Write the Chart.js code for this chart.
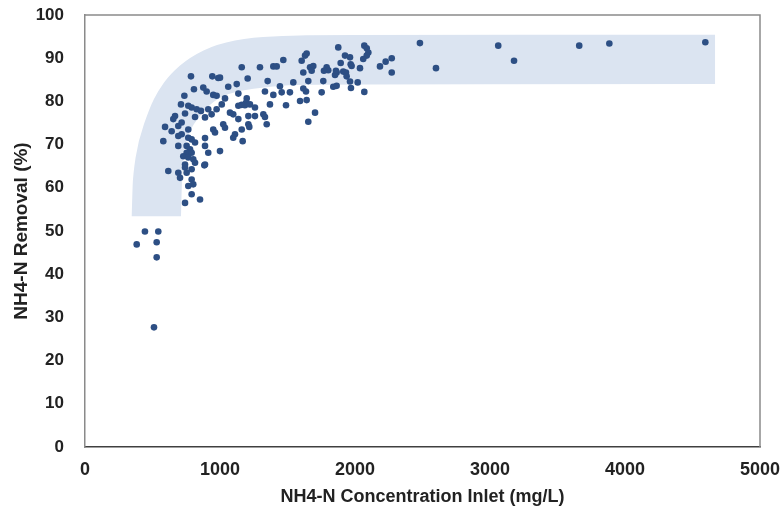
<!DOCTYPE html>
<html>
<head>
<meta charset="utf-8">
<script src="https://cdn.jsdelivr.net/npm/chart.js@4.4.1/dist/chart.umd.min.js"></script>
<style>
  html, body { margin: 0; padding: 0; background: #fff; }
  #wrap { width: 783px; height: 506px; position: relative; }
</style>
</head>
<body>
<div id="wrap"><canvas id="chart"></canvas></div>
<script>
// NH4-N inlet concentration (mg/L) vs removal (%)
const inletConc = [
  785, 943, 987, 807, 876, 901, 950, 975, 736, 711, 765, 790, 827, 859, 913, 938, 975, 741, 667, 654,
  815, 889, 593, 691, 716, 765, 950, 963, 642, 580, 691, 716, 765, 790, 815, 889, 691, 753, 778, 753,
  790, 889, 913, 728, 765, 802, 815, 741, 889, 617, 691, 704, 741, 790, 753, 790, 765, 802, 790, 852,
  741, 884,
  444, 543, 383, 531, 531, 511,
  1161, 1296, 1395, 1420, 1469, 1605, 1630, 1642, 1667, 1691, 1679, 1617, 1790, 1802, 1876, 1864, 1852,
  1000, 1061, 1205, 1353, 1543, 1654, 1765, 1124, 1136, 1444, 1457, 1617, 1637, 1839, 1864, 1333, 1395,
  1518, 1753, 1037, 1013, 1198, 1193, 1593, 1642, 1370, 1489, 1136, 1161, 1185, 1222, 1259, 1074, 1098,
  1210, 1259, 1321, 1333, 1704, 1654, 1346, 1210, 1217, 1136, 1024, 1037, 1161, 1111, 1098, 1168, 1000,
  2481, 3061, 3661, 3884, 4595, 3178, 2600, 2272, 2227, 2185, 2272, 2069, 2087, 2099, 2087, 2061, 1926,
  1963, 1894, 1968, 1975, 1770, 1859, 1913, 1933, 2037, 1938, 1963, 2020, 1970, 2069
];
const removalPct = [
  85.8, 85.8, 85.4, 82.8, 83.2, 82.3, 81.5, 81.3, 81.3, 79.3, 79.0, 78.6, 78.2, 77.8, 78.2, 77.0, 78.2, 77.2, 76.6, 75.9,
  76.4, 76.3, 74.1, 74.3, 75.1, 73.5, 73.5, 72.8, 73.1, 70.8, 72.0, 72.4, 71.6, 71.2, 70.5, 71.5, 69.7, 69.7, 68.9, 68.1,
  68.1, 69.7, 68.1, 67.3, 67.0, 66.6, 65.8, 65.4, 65.4, 63.9, 63.5, 62.3, 64.7, 64.3, 63.5, 61.9, 60.4, 60.8, 58.5, 57.3,
  56.5, 65.2,
  49.9, 49.9, 46.9, 47.4, 43.9, 27.7,
  87.9, 87.9, 88.1, 88.1, 89.6, 89.4, 90.6, 91.1, 87.9, 88.2, 87.1, 86.7, 87.9, 87.2, 92.5, 86.7, 86.1,
  85.5, 83.4, 85.3, 84.7, 84.4, 84.7, 84.7, 84.0, 81.8, 83.5, 82.1, 83.0, 82.3, 83.4, 83.6, 82.3, 81.5,
  82.1, 82.1, 80.7, 79.3, 80.7, 79.7, 80.1, 80.3, 79.3, 79.1, 79.0, 79.2, 79.1, 79.3, 78.6, 77.4, 77.0,
  76.6, 76.6, 77.0, 76.4, 77.4, 75.3, 74.7, 74.7, 74.1, 75.9, 74.7, 73.9, 73.5, 72.4, 71.6, 70.8, 68.5,
  93.5, 92.9, 92.9, 93.4, 93.7, 89.4, 87.7, 90.0, 89.2, 88.1, 86.7, 92.9, 92.3, 91.3, 90.6, 89.8, 90.6,
  90.2, 88.9, 88.6, 88.2, 87.1, 87.1, 86.9, 86.7, 87.7, 85.8, 84.6, 84.4, 83.1, 82.2
];

// shaded envelope outline (outer edge then inner edge)
const bandOuterX = [346, 350, 356, 393, 481, 541, 630, 778, 978, 1244, 1541, 1741, 4667];
const bandOuterY = [53.4, 58, 63.1, 70.8, 78.7, 82.4, 86.3, 90.3, 93.3, 94.9, 95.2, 95.4, 95.4];
const bandInnerX = [4667, 1644, 1370, 1126, 1000, 904, 800, 741, 719, 711];
const bandInnerY = [84, 84, 83.5, 82.4, 81, 78.7, 74.7, 70.8, 63.1, 53.4];

const xTicks = [0, 1000, 2000, 3000, 4000, 5000];
const yTicks = [0, 10, 20, 30, 40, 50, 60, 70, 80, 90, 100];

const points = inletConc.map((x, i) => ({ x: x, y: removalPct[i] }));

function smoothTo(ctx, pts, first) {
    if (first) ctx.moveTo(pts[0].x, pts[0].y);
    else ctx.lineTo(pts[0].x, pts[0].y);
    for (let i = 1; i < pts.length - 1; i++) {
        const mx = (pts[i].x + pts[i + 1].x) / 2;
        const my = (pts[i].y + pts[i + 1].y) / 2;
        ctx.quadraticCurveTo(pts[i].x, pts[i].y, mx, my);
    }
    const last = pts[pts.length - 1];
    ctx.lineTo(last.x, last.y);
}

const bandPlugin = {
    id: 'band',
    beforeDatasetsDraw(chart) {
        const { ctx, scales: { x, y } } = chart;
        const outer = bandOuterX.map((v, i) => ({ x: x.getPixelForValue(v), y: y.getPixelForValue(bandOuterY[i]) }));
        const inner = bandInnerX.map((v, i) => ({ x: x.getPixelForValue(v), y: y.getPixelForValue(bandInnerY[i]) }));
        ctx.save();
        ctx.fillStyle = '#dbe4f1';
        ctx.beginPath();
        smoothTo(ctx, outer, true);
        smoothTo(ctx, inner, false);
        ctx.closePath();
        ctx.fill();
        ctx.restore();
    }
};

const framePlugin = {
    id: 'frame',
    afterDraw(chart) {
        const { ctx, chartArea: a } = chart;
        ctx.save();
        ctx.strokeStyle = '#8a8a8a';
        ctx.lineWidth = 1.5;
        ctx.beginPath();
        ctx.moveTo(a.left, a.top);
        ctx.lineTo(a.right, a.top);
        ctx.lineTo(a.right, a.bottom);
        ctx.stroke();
        ctx.restore();
    }
};

const tickFont = { family: 'Liberation Sans, Arial, sans-serif', weight: 'bold' };

new Chart(document.getElementById('chart'), {
    type: 'scatter',
    data: {
        datasets: [{
            label: 'NH4-N',
            data: points,
            backgroundColor: '#2d4f84',
            borderColor: '#2d4f84',
            borderWidth: 0,
            pointRadius: 3.3,
            pointHoverRadius: 3.3
        }]
    },
    options: {
        responsive: true,
        maintainAspectRatio: false,
        animation: false,
        layout: { padding: { left: 0, right: 23, top: 15, bottom: 0 } },
        plugins: {
            legend: { display: false },
            tooltip: { enabled: false }
        },
        scales: {
            x: {
                type: 'linear',
                min: 0,
                max: 5000,
                afterBuildTicks: s => { s.ticks = xTicks.map(v => ({ value: v })); },
                afterFit: s => { s.height = 59; s.paddingLeft = 0; s.paddingRight = 0; },
                grid: { display: false, drawTicks: false },
                border: { display: true, color: '#404040', width: 1.5 },
                ticks: {
                    color: '#222',
                    padding: 12,
                    maxRotation: 0,
                    callback: v => String(v),
                    font: { ...tickFont, size: 18 }
                },
                title: {
                    display: true,
                    text: 'NH4-N Concentration Inlet (mg/L)',
                    color: '#222',
                    padding: { top: 0, bottom: 0 },
                    font: { ...tickFont, size: 18, lineHeight: 1 }
                }
            },
            y: {
                min: 0,
                max: 100,
                afterBuildTicks: s => { s.ticks = yTicks.map(v => ({ value: v })); },
                afterFit: s => { s.width = 85; s.paddingTop = 0; s.paddingBottom = 0; },
                grid: { display: false, drawTicks: false },
                border: { display: true, color: '#8a8a8a', width: 1.5 },
                ticks: {
                    color: '#222',
                    padding: 21,
                    callback: v => String(v),
                    font: { ...tickFont, size: 17 }
                },
                title: {
                    display: true,
                    text: 'NH4-N Removal (%)',
                    color: '#222',
                    padding: { top: 12, bottom: 0 },
                    font: { ...tickFont, size: 19, lineHeight: 1 }
                }
            }
        }
    },
    plugins: [bandPlugin, framePlugin]
});
</script>
</body>
</html>
